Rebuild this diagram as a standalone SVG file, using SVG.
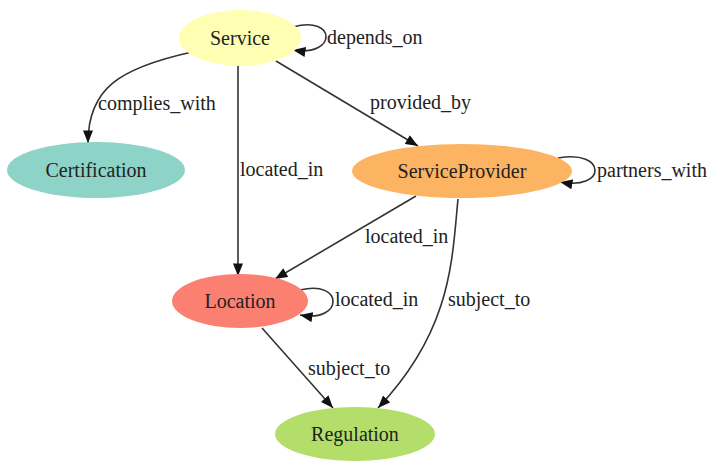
<svg xmlns="http://www.w3.org/2000/svg" width="712" height="462" viewBox="0 0 712 462">
<style>
text{font-family:"Liberation Serif","Times New Roman",serif;font-size:20px;fill:#222}
.n text{text-anchor:middle}
.e path{fill:none;stroke:#333;stroke-width:1.6;marker-end:url(#ah)}
</style>
<defs>
<marker id="ah" viewBox="0 0 10 8" refX="10" refY="4" markerWidth="13" markerHeight="10" orient="auto" markerUnits="userSpaceOnUse"><path d="M0,0 L10,4 L0,8 z" fill="#111"/></marker>
</defs>
<rect width="712" height="462" fill="#fff"/>
<g id="connectors" class="e">
<path d="M192,52 C120,68 88,88 88,143"/>
<path d="M238,66 L238,276"/>
<path d="M276,61 L418,146"/>
<path d="M293,27 C337,15 337,57 293,50"/>
<path d="M558,158 C607,149 607,191 560,182"/>
<path d="M416,196 L275,279"/>
<path d="M458,199 C452,260 452,330 378,408"/>
<path d="M300,290 C344,279 344,323 300,315"/>
<path d="M262,328 L333,408"/>
<text x="98" y="110">complies_with</text>
<text x="240" y="176">located_in</text>
<text x="370" y="109">provided_by</text>
<text x="327" y="44">depends_on</text>
<text x="597" y="177">partners_with</text>
<text x="365" y="243">located_in</text>
<text x="448" y="306">subject_to</text>
<text x="335" y="306">located_in</text>
<text x="308" y="375">subject_to</text>
</g>
<g id="Service" class="n"><ellipse cx="240" cy="38" rx="61" ry="28" fill="#ffffb3"/><text x="240" y="45">Service</text></g>
<g id="Certification" class="n"><ellipse cx="96" cy="170" rx="89" ry="28" fill="#8dd3c7"/><text x="96" y="177">Certification</text></g>
<g id="ServiceProvider" class="n"><ellipse cx="462" cy="171" rx="110" ry="27" fill="#fdb462"/><text x="462" y="178">ServiceProvider</text></g>
<g id="Location" class="n"><ellipse cx="240" cy="301" rx="68" ry="27" fill="#fb8072"/><text x="240" y="308">Location</text></g>
<g id="Regulation" class="n"><ellipse cx="355" cy="434" rx="80" ry="27" fill="#b3de69"/><text x="355" y="441">Regulation</text></g>
</svg>
